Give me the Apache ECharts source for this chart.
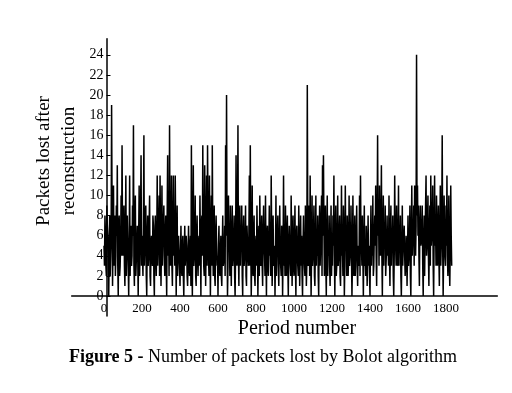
<!DOCTYPE html>
<html><head><meta charset="utf-8">
<script src="https://cdn.jsdelivr.net/npm/echarts@6/dist/echarts.min.js"></script>
<style>html,body{margin:0;padding:0;background:#fff}#c{width:512px;height:393px}</style>
</head><body><div id="c"></div><script>
// values: one every 5 periods, plus the in-between readings
const periodStep = 5;
const packetsLost = [
  5,8,3,9,6,0,8,4,19,1,11,7,2,9,13,0,8,3,10,15,
  4,9,1,12,5,8,0,12,6,3,9,17,1,10,2,7,0,11,5,14,
  6,2,16,5,9,0,8,4,10,1,6,3,7,0,8,2,12,5,10,12,
  1,11,6,9,2,8,0,14,7,17,3,12,1,12,8,12,0,9,4,6,
  1,7,2,6,0,7,3,5,1,7,2,6,15,0,13,3,10,1,8,2,
  6,10,0,8,15,3,13,1,12,15,4,12,0,10,15,2,9,1,8,3,
  0,7,2,6,1,8,3,7,15,20,0,10,6,9,1,9,3,8,0,14,
  3,17,1,9,6,9,0,8,4,9,1,7,3,12,15,0,11,2,8,1,
  6,9,0,7,10,3,8,1,9,4,10,0,7,2,9,5,12,1,8,3,
  0,10,5,8,1,9,3,7,0,12,6,9,2,8,0,7,3,10,1,8,
  2,9,0,7,3,9,1,8,6,0,8,4,9,1,21,3,9,12,0,10,
  4,9,1,10,6,8,0,9,5,10,13,14,2,9,0,10,6,8,1,9,
  5,8,12,0,9,3,10,4,8,1,11,5,9,0,11,6,8,2,10,3,
  9,0,10,2,8,4,9,1,3,10,12,5,8,0,9,4,7,1,8,5,
  0,9,6,10,3,8,11,1,16,9,11,4,13,0,10,7,9,2,8,5,
  10,1,9,6,8,0,12,5,9,3,11,6,8,0,9,5,7,2,6,1,
  8,3,9,0,11,6,9,11,4,24,11,9,1,9,5,9,0,8,6,12,
  5,10,1,9,12,6,11,0,12,7,10,3,9,1,11,5,16,0,10,4,
  9,12,2,10,1,11,3
];
const packetsLostBetween = [
  3,6,2,7,4,5,2,6,9,5,3,8,4,6,3,7,2,5,4,6,
  7,3,6,2,8,3,5,2,7,4,6,3,8,2,5,4,6,2,8,3,
  4,7,3,8,2,6,3,7,2,5,4,8,2,6,4,5,3,7,2,6,
  5,3,7,4,6,3,8,4,2,6,5,3,7,4,3,6,5,2,6,3,
  4,3,5,2,4,3,6,2,4,3,5,1,4,6,3,5,2,6,4,5,
  3,5,7,4,6,2,7,5,3,8,2,6,5,3,6,4,2,6,5,4,
  5,3,4,2,5,3,4,2,6,7,3,5,2,4,6,3,5,2,4,6,
  6,4,7,3,5,2,6,3,5,2,7,4,6,3,5,4,3,6,2,5,
  3,5,4,2,6,4,3,6,5,2,4,6,3,5,4,2,6,4,3,5,
  4,2,6,3,5,4,2,6,4,3,2,5,6,3,5,4,2,6,5,3,
  5,3,6,4,2,5,4,3,2,5,4,2,6,3,7,4,2,5,4,3,
  6,2,5,3,4,2,6,3,5,2,6,7,5,3,6,2,4,3,5,2,
  3,5,4,6,2,5,3,6,2,5,4,2,6,3,5,2,6,4,3,5,
  4,3,5,4,2,6,3,5,4,2,6,3,4,5,3,2,5,4,3,2,
  5,3,4,2,6,5,4,7,6,3,5,7,4,6,3,5,2,5,4,3,
  4,6,3,5,2,4,6,3,5,4,3,5,2,4,3,6,4,3,5,4,
  3,5,2,6,4,5,3,6,7,8,6,4,7,5,6,3,5,2,6,4,
  7,4,6,3,5,7,3,6,5,3,7,5,4,6,3,7,5,4,6,3,
  5,4,6,3,5,6
];
const xTickValues = [0,200,400,600,800,1000,1200,1400,1600,1800];
const yTickValues = [0,2,4,6,8,10,12,14,16,18,20,22,24];
const xName = 'Period number';
const yName = 'Packets lost after\nreconstruction';
const captionBold = 'Figure 5 -';
const captionRest = ' Number of packets lost by Bolot algorithm';

const serif = '"Liberation Serif", "Times New Roman", serif';
const chart = echarts.init(document.getElementById('c'), null, {renderer: 'canvas'});
const seriesData = [];
packetsLost.forEach((v, i) => {
  seriesData.push([i * periodStep, v]);
  if (i < packetsLostBetween.length) seriesData.push([i * periodStep + periodStep / 2, packetsLostBetween[i]]);
});

chart.setOption({
  animation: false,
  grid: {left: 71.7, top: 38.7, width: 425.6, height: 277.4},
  xAxis: {
    type: 'value', min: -170, max: 2070, offset: -20.1,
    axisLine: {onZero: false, lineStyle: {color: '#000', width: 1.5}},
    axisTick: {show: false},
    splitLine: {show: false},
    axisLabel: {customValues: xTickValues, fontFamily: serif, fontSize: 13, color: '#000', margin: 6,
      formatter: v => String(v)}
  },
  yAxis: {
    type: 'value', min: -2, max: 25.6, offset: -34.8,
    axisLine: {onZero: false, lineStyle: {color: '#000', width: 1.5}},
    axisTick: {inside: true, length: 4, customValues: yTickValues, lineStyle: {color: '#000'}},
    splitLine: {show: false},
    axisLabel: {customValues: yTickValues, fontFamily: serif, fontSize: 14, color: '#000', margin: 3}
  },
  series: [{
    type: 'line', data: seriesData, symbol: 'none', showSymbol: false, sampling: false,
    lineStyle: {color: '#000', width: 1.5}, z: 1
  }],
  graphic: [
    {type: 'text', x: 57, y: 161, rotation: Math.PI / 2,
     style: {text: yName, fontFamily: serif, fontSize: 19, align: 'center', verticalAlign: 'middle', lineHeight: 25, fill: '#000'}},
    {type: 'text', x: 297, y: 329,
     style: {text: xName, fontFamily: serif, fontSize: 20, align: 'center', verticalAlign: 'middle', fill: '#000'}},
    {type: 'text', x: 263, y: 357,
     style: {text: '{b|' + captionBold + '}{n|' + captionRest + '}', fontFamily: serif, fontSize: 18, align: 'center', verticalAlign: 'middle', fill: '#000',
       rich: {b: {fontWeight: 'bold', fontFamily: serif, fontSize: 18, fill: '#000'},
              n: {fontFamily: serif, fontSize: 18, fill: '#000'}}}}
  ]
});
</script></body></html>
